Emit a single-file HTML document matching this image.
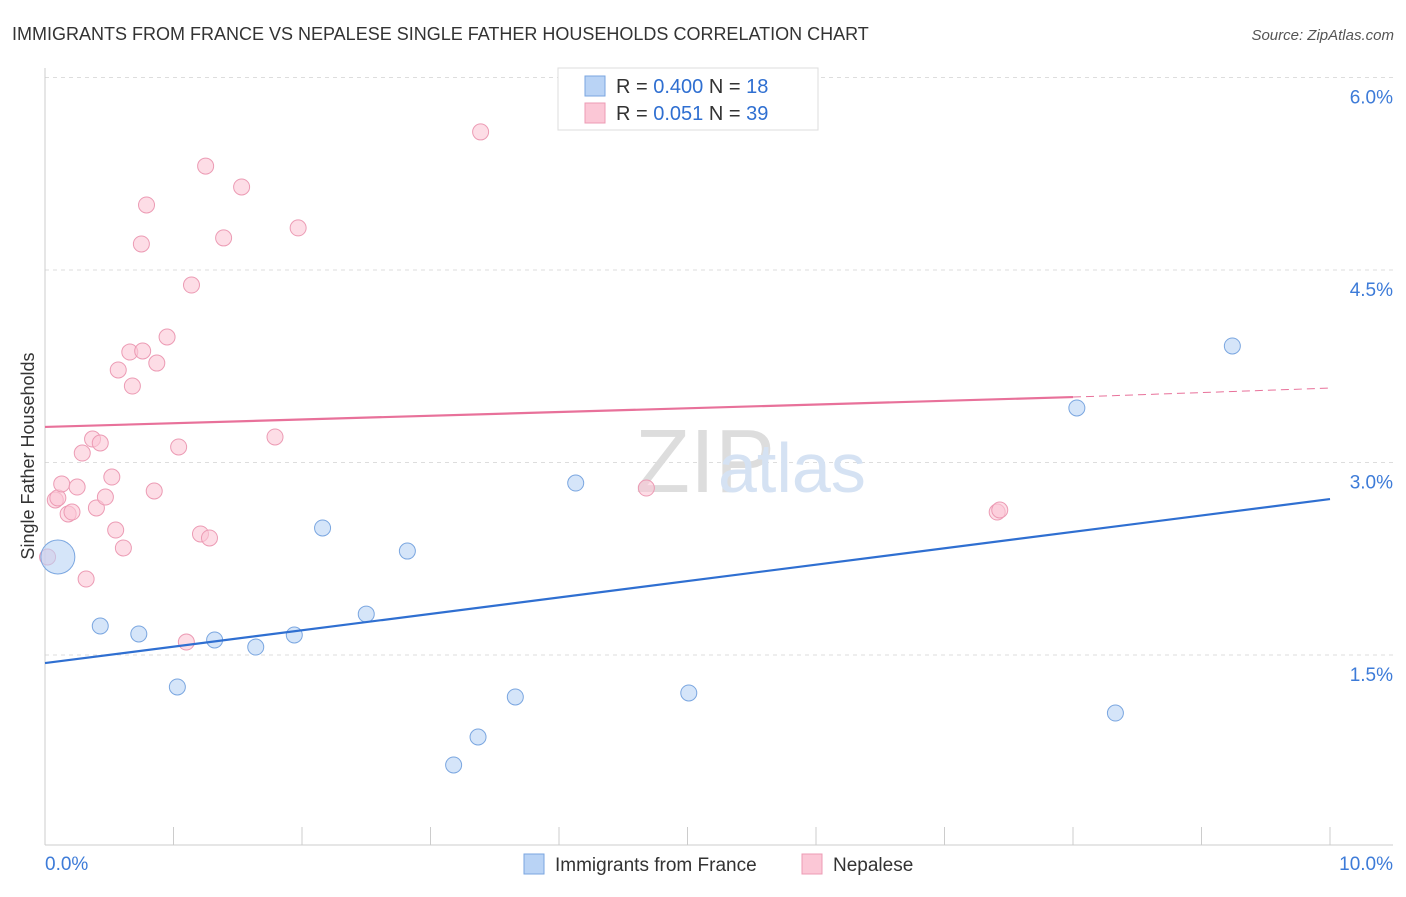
<!DOCTYPE html>
<html><head><meta charset="utf-8"><style>
body{margin:0;background:#fff;font-family:"Liberation Sans",sans-serif}
svg text{font-family:"Liberation Sans",sans-serif}
</style></head><body>
<svg width="1406" height="892">
<text x="12" y="40" font-size="18" fill="#333">IMMIGRANTS FROM FRANCE VS NEPALESE SINGLE FATHER HOUSEHOLDS CORRELATION CHART</text>
<text x="1394" y="40" font-size="15" fill="#555" font-style="italic" text-anchor="end">Source: ZipAtlas.com</text>
<g id="grid"></g>
<g id="axes"></g>
<text x="635" y="492" font-size="90" fill="#ddd" font-family="Liberation Serif">ZIP</text>
<text x="718" y="492" font-size="70" fill="#d5e2f3">atlas</text>
<g id="marks"></g>
<text transform="translate(34,456) rotate(-90)" font-size="18" fill="#333" text-anchor="middle">Single Father Households</text>
<g>
<rect x="558" y="68" width="260" height="62" fill="#fff" stroke="#ddd"/>
<rect x="585" y="76" width="20" height="20" fill="#b9d3f5" stroke="#7aa6e0"/>
<rect x="585" y="103" width="20" height="20" fill="#fbc7d6" stroke="#ec9bb4"/>
<text x="616" y="93" font-size="20" fill="#333">R = <tspan fill="#2f6fd1">0.400</tspan>   N =  <tspan fill="#2f6fd1">18</tspan></text>
<text x="616" y="120" font-size="20" fill="#333">R =  <tspan fill="#2f6fd1">0.051</tspan>   N = <tspan fill="#2f6fd1">39</tspan></text>
</g>
<g>
<rect x="524" y="854" width="20" height="20" fill="#b9d3f5" stroke="#7aa6e0"/>
<text x="555" y="871" font-size="19" fill="#333">Immigrants from France</text>
<rect x="802" y="854" width="20" height="20" fill="#fbc7d6" stroke="#ec9bb4"/>
<text x="833" y="871" font-size="19" fill="#333">Nepalese</text>
</g>
</svg>
<script>
const yTicks=[1.5,3.0,4.5,6.0];
const yTickLabels=["1.5%","3.0%","4.5%","6.0%"];
const xTickLabels=["0.0%","10.0%"];
const franceX=[0.10,0.43,0.73,1.03,1.32,1.64,1.94,2.16,2.50,2.82,3.18,3.37,3.66,4.13,5.01,8.03,8.33,9.24];
const franceY=[2.264,1.726,1.664,1.251,1.617,1.562,1.656,2.49,1.819,2.310,0.643,0.861,1.173,2.840,1.204,3.425,1.048,3.908];
const nepalX=[0.02,0.08,0.10,0.13,0.18,0.21,0.25,0.29,0.32,0.37,0.40,0.43,0.47,0.52,0.55,0.57,0.61,0.66,0.68,0.75,0.76,0.79,0.85,0.87,0.95,1.04,1.10,1.14,1.21,1.25,1.28,1.39,1.53,1.79,1.97,3.39,4.68,7.41,7.43];
const nepalY=[2.264,2.708,2.724,2.833,2.599,2.614,2.809,3.074,2.092,3.183,2.646,3.152,2.731,2.887,2.474,3.721,2.334,3.861,3.596,4.703,3.869,5.007,2.778,3.775,3.978,3.121,1.601,4.383,2.443,5.310,2.412,4.750,5.147,3.199,4.828,5.576,2.801,2.614,2.630];
const franceTrend=[1.437,2.715];
const nepalTrend=[3.277,3.51,3.58];
const NS="http://www.w3.org/2000/svg";
const xs=v=>45+v*128.5, ys=v=>847.5-v*128.33;
function mk(p,t,a){const e=document.createElementNS(NS,t);for(const k in a)e.setAttribute(k,a[k]);document.getElementById(p).appendChild(e);return e;}
yTicks.forEach((t,i)=>{
 const g=mk('grid','line',{x1:45,x2:1393,y1:ys(t),y2:ys(t),stroke:'#ddd','stroke-dasharray':'4,4'});
 
 
 const tx=mk('grid','text',{x:1393,y:ys(t)+26,'font-size':19,fill:'#3d7bd8','text-anchor':'end'});
 tx.textContent=yTickLabels[i];
 
 
});
let a=mk('axes','line',{x1:45,x2:45,y1:68,y2:845,stroke:'#ccc'});


a=mk('axes','line',{x1:45,x2:1393,y1:845,y2:845,stroke:'#ccc'});


for(let i=0;i<=10;i++){const t=mk('axes','line',{x1:xs(i),x2:xs(i),y1:827,y2:845,stroke:'#ccc'});
 
 }
[[0,'start',45],[10,'end',1393]].forEach((d,i)=>{const t=mk('axes','text',{x:d[2],y:870,'font-size':19,fill:'#3d7bd8','text-anchor':d[1]});t.textContent=xTickLabels[i];
 
 });
nepalX.forEach((x,i)=>{const c=mk('marks','circle',{cx:xs(x),cy:ys(nepalY[i]),r:8,fill:'#fbc7d6','fill-opacity':0.6,stroke:'#ec9bb4'});
 
 });
franceX.forEach((x,i)=>{const c=mk('marks','circle',{cx:xs(x),cy:ys(franceY[i]),r:i==0?17:8,fill:'#b9d3f5','fill-opacity':0.6,stroke:'#7aa6e0'});
 
 });
let l=mk('marks','line',{x1:xs(0),y1:ys(franceTrend[0]),x2:xs(10),y2:ys(franceTrend[1]),stroke:'#2f6fd1','stroke-width':2.2});


l=mk('marks','line',{x1:xs(0),y1:ys(nepalTrend[0]),x2:xs(8),y2:ys(nepalTrend[1]),stroke:'#e8719a','stroke-width':2.2});


l=mk('marks','line',{x1:xs(8),y1:ys(nepalTrend[1]),x2:xs(10),y2:ys(nepalTrend[2]),stroke:'#e8719a','stroke-width':1,'stroke-dasharray':'8,5'});


</script>
</body></html>
